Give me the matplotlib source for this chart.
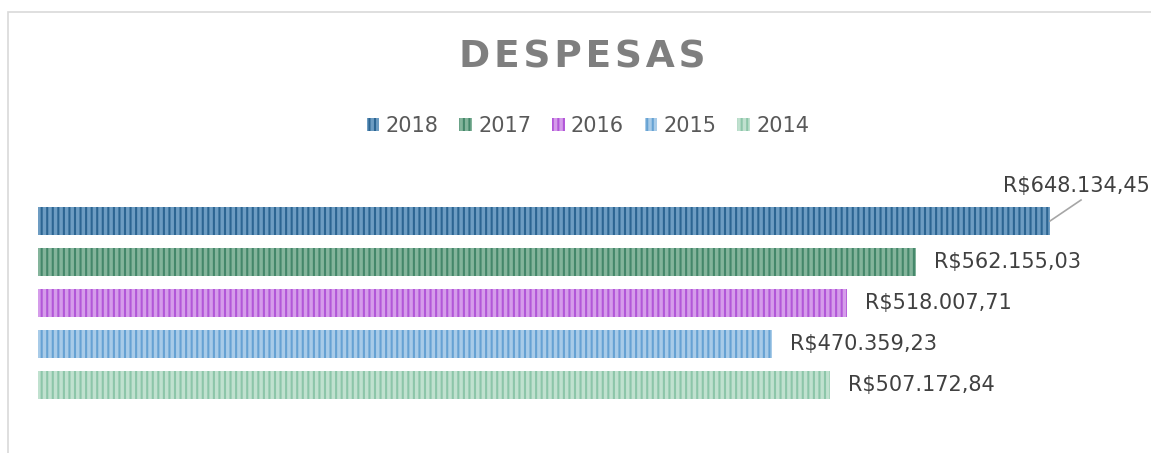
import matplotlib.pyplot as plt
from matplotlib.patches import Rectangle

W, H = 1151, 453

years = ["2018", "2017", "2016", "2015", "2014"]
values = [648134.45, 562155.03, 518007.71, 470359.23, 507172.84]
labels = ["R$648.134,45", "R$562.155,03", "R$518.007,71", "R$470.359,23", "R$507.172,84"]
face_colors = ["#6d9cc2", "#84b49b", "#d59cea", "#a8cbe8", "#c0e1cf"]
line_colors = ["#2c6592", "#44876a", "#b257d8", "#66a2d3", "#8cc6a9"]

plt.rcParams["hatch.linewidth"] = 1.5

fig = plt.figure(figsize=(W / 100, H / 100), dpi=100)

# chart frame (left and top edges visible)
fig.patches.append(Rectangle((8 / W, -0.1), 1.2, 1.1 - 12 / H, transform=fig.transFigure,
                             fill=False, edgecolor="#d9d9d9", linewidth=1.2))

ax = fig.add_axes([38 / W, 1 - 405.5 / H, 1093 / W, 205 / H])
ypos = list(range(len(years)))
for y, v, fc, lc in zip(ypos, values, face_colors, line_colors):
    ax.barh(y, v, height=0.683, color=fc, edgecolor=lc, hatch="|||", linewidth=0)

ax.set_xlim(0, 700000)
ax.set_ylim(len(years) - 0.5, -0.5)
ax.axis("off")

# value labels
for y, v, lab in zip(ypos[1:], values[1:], labels[1:]):
    ax.annotate(lab, (v, y), xytext=(13, 0), textcoords="offset points",
                va="center", ha="left", fontsize=15, color="#404040")

# 2018 label sits above the bar end with a leader line
x0, y0 = ax.transData.transform((values[0], ypos[0]))
fig.add_artist(plt.Line2D([x0 / W, (x0 + 31) / W], [y0 / H, (y0 + 21) / H],
                          transform=fig.transFigure, color="#a6a6a6", lw=1.2))
fig.text(1150 / W, 1 - 186 / H, labels[0], ha="right", va="center",
         fontsize=15, color="#404040")

fig.text(582 / W, 1 - 57 / H, "\u200a".join("DESPESAS"), ha="center", va="center",
         fontsize=27, fontweight="bold", color="#7f7f7f")

handles = [Rectangle((0, 0), 1, 1, facecolor=fc, edgecolor=lc, hatch="|||", linewidth=0)
           for fc, lc in zip(face_colors, line_colors)]
fig.legend(handles, years, loc="center", bbox_to_anchor=(588 / W, 1 - 126 / H), ncol=5,
           frameon=False, fontsize=15, labelcolor="#595959", handlelength=0.6,
           handleheight=0.6, handletextpad=0.3, columnspacing=1.0)

fig.savefig("out.png", dpi=100)
